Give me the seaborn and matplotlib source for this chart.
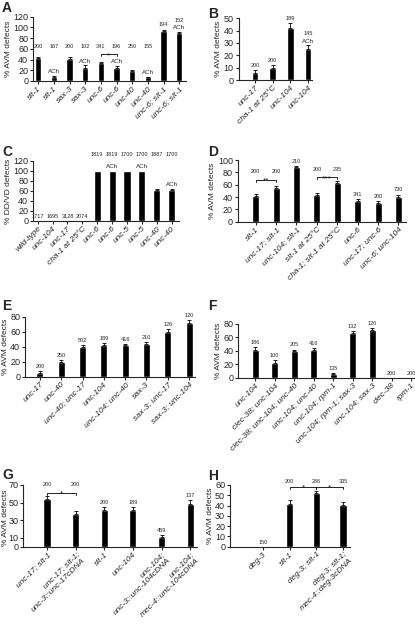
import numpy as np
import pandas as pd
import seaborn as sns
import matplotlib
matplotlib.use("Agg")
import matplotlib.pyplot as plt

# ---- data ----
a_labels = ["slt-1", "slt-1", "sax-3", "sax-3", "unc-6", "unc-6", "unc-40", "unc-40",
            "unc-6; slt-1", "unc-6; slt-1"]
a_vals = [42, 8, 41, 25, 34, 25, 19, 7, 94, 90]
a_errs = [3, 2, 3, 4, 2, 3, 1, 1, 2, 2]
a_counts = [200, 167, 200, 102, 341, 196, 250, 155, 194, 152]
a_ach = [0, 1, 0, 1, 0, 1, 0, 1, 0, 1]

b_labels = ["unc-17", "cha-1 at 25°C", "unc-104", "unc-104"]
b_vals = [6, 10, 42, 25]
b_errs = [2, 2, 4, 3]
b_counts = [200, 200, 189, 145]
b_ach = [0, 0, 0, 1]

c_labels = ["wild-type", "unc-104", "unc-17", "cha-1 at 25°C", "unc-6", "unc-6",
            "unc-5", "unc-5", "unc-40", "unc-40"]
c_vals = [0, 0, 0, 0, 100, 100, 100, 100, 62, 62]
c_errs = [0, 0, 0, 0, 0, 0, 0, 0, 2, 2]
c_counts = [1717, 1695, 3128, 2074, 1819, 1819, 1700, 1700, 1887, 1700]
c_ach = [0, 0, 0, 0, 0, 1, 0, 1, 0, 1]

d_labels = ["slt-1", "unc-17; slt-1", "unc-104; slt-1", "slt-1 at 25°C",
            "cha-1; slt-1 at 25°C", "unc-6", "unc-17; unc-6", "unc-6; unc-104"]
d_vals = [42, 55, 88, 43, 63, 34, 31, 40]
d_errs = [3, 3, 2, 3, 3, 3, 3, 4]
d_counts = [200, 200, 210, 200, 235, 341, 200, 730]

e_labels = ["unc-17", "unc-40", "unc-40; unc-17", "unc-104", "unc-104; unc-40",
            "sax-3", "sax-3; unc-17", "sax-3; unc-104"]
e_vals = [5, 19, 40, 42, 42, 43, 60, 71]
e_errs = [2, 3, 2, 3, 2, 3, 4, 4]
e_counts = [200, 250, 502, 189, 416, 210, 126, 120]

f_labels = ["unc-104", "clec-38; unc-104", "clec-38; unc-104; unc-40", "unc-104; unc-40",
            "unc-104; rpm-1", "unc-104; rpm-1; sax-3", "unc-104; sax-3", "clec-38", "rpm-1"]
f_vals = [42, 22, 40, 42, 6, 67, 71, 0, 0]
f_errs = [3, 4, 2, 2, 1, 3, 3, 0, 0]
f_counts = [186, 100, 205, 416, 135, 132, 120, 200, 200]

g_labels = ["unc-17; slt-1", "unc-17; slt-1;\nunc-3::unc-17cDNA", "slt-1", "unc-104",
            "unc-104;\nunc-3::unc-104cDNA", "unc-104;\nmec-4::unc-104cDNA"]
g_vals = [54, 37, 42, 42, 11, 49]
g_errs = [3, 3, 3, 3, 2, 4]
g_counts = [200, 200, 200, 189, 459, 137]

h_labels = ["deg-3", "slt-1", "deg-3; slt-1", "deg-3; slt-1;\nmec-4::deg-3cDNA"]
h_vals = [0, 42, 52, 41]
h_errs = [0, 3, 2, 2]
h_counts = [150, 200, 286, 335]

sns.set_style("ticks")
plt.rcParams["font.family"] = ["Liberation Sans", "DejaVu Sans"]

W, H = 415, 626
fig = plt.figure(figsize=(W / 100, H / 100), dpi=100)


def make_axes(left, right, top, bottom):
    return fig.add_axes([left / W, 1 - bottom / H, (right - left) / W, (bottom - top) / H])


def draw_panel(ax, labels, vals, errs, width, xlim, ylim, yticks, ylabel="% AVM defects"):
    n = len(vals)
    df = pd.DataFrame({"pos": np.arange(n), "val": vals})
    sns.barplot(data=df, x="pos", y="val", color="black", width=width, saturation=1,
                errorbar=None, native_scale=True, ax=ax)
    errs = np.array(errs)
    m = errs > 0
    ax.errorbar(df["pos"][m], df["val"][m], yerr=[np.zeros(m.sum()), errs[m]], fmt="none",
                ecolor="black", elinewidth=0.6, capsize=1.5, capthick=0.6)
    ax.set_xlim(xlim)
    ax.set_ylim(ylim)
    ax.set_yticks(yticks)
    ax.set_yticklabels([str(t) for t in yticks], fontsize=6.5)
    ax.set_xticks(np.arange(n))
    ax.set_xticklabels(labels, rotation=45, ha="right", va="top", rotation_mode="anchor",
                       fontstyle="italic", fontsize=6, multialignment="right")
    ax.set_xlabel("")
    ax.set_ylabel(ylabel, fontsize=6, labelpad=1)
    ax.tick_params(axis="y", length=2.5, width=0.8, pad=1)
    ax.tick_params(axis="x", length=2, width=0.8, pad=1)
    sns.despine(ax=ax)
    for s in ("left", "bottom"):
        ax.spines[s].set_linewidth(0.8)


def label_bars(ax, vals, errs, counts, ach=None, rows=None):
    rows = rows or {}
    ach = ach or [0] * len(vals)
    for i, (v, e, c, a) in enumerate(zip(vals, errs, counts, ach)):
        top = v + e
        if a:
            ax.annotate("ACh", (i, top), xytext=(0, 1.2), textcoords="offset points",
                        ha="center", va="bottom", fontsize=4.5, annotation_clip=False)
        if i in rows:
            ax.text(i, rows[i], str(c), ha="center", va="center", fontsize=4, clip_on=False)
        else:
            off = 6.5 if a else 1.5
            ax.annotate(str(c), (i, top), xytext=(0, off), textcoords="offset points",
                        ha="center", va="bottom", fontsize=4, annotation_clip=False)


def bracket(ax, i, j, y, stars, drop):
    ax.plot([i, i, j, j], [y - drop, y, y, y - drop], color="black", lw=0.6, clip_on=False)
    ax.annotate(stars, ((i + j) / 2, y), xytext=(0, -2), textcoords="offset points",
                ha="center", va="baseline", fontsize=6, annotation_clip=False)


# A
ax = make_axes(33, 186, 16.7, 81)
draw_panel(ax, a_labels, a_vals, a_errs, 0.4, (-0.33, 9.43), (0, 120), range(0, 121, 20))
label_bars(ax, a_vals, a_errs, a_counts, a_ach, rows={i: 64 for i in range(8)})
bracket(ax, 4, 5, 50, "*", 3)

# B
ax = make_axes(238.5, 312, 18.3, 80)
draw_panel(ax, b_labels, b_vals, b_errs, 0.38, (-0.93, 3.22), (0, 50), range(0, 51, 10))
label_bars(ax, b_vals, b_errs, b_counts, b_ach)

# C
ax = make_axes(33, 179, 161, 221)
draw_panel(ax, c_labels, c_vals, c_errs, 0.48, (-0.32, 9.5), (0, 120), range(0, 121, 20),
           ylabel="% DD/VD defects")
label_bars(ax, c_vals, c_errs, c_counts, c_ach, rows={i: 132 for i in range(4, 10)})

# D
ax = make_axes(237.7, 406, 160, 221.7)
draw_panel(ax, d_labels, d_vals, d_errs, 0.34, (-0.88, 7.37), (0, 100), range(0, 101, 20))
label_bars(ax, d_vals, d_errs, d_counts, rows={0: 81, 1: 81, 3: 84, 4: 84})
bracket(ax, 0, 1, 68, "**", 3.5)
bracket(ax, 3, 4, 72, "***", 3.5)

# E
ax = make_axes(25, 195, 316.7, 376.7)
draw_panel(ax, e_labels, e_vals, e_errs, 0.33, (-0.7, 7.28), (0, 80), range(0, 81, 20))
label_bars(ax, e_vals, e_errs, e_counts)

# F
ax = make_axes(238.3, 414, 324, 377.7)
draw_panel(ax, f_labels, f_vals, f_errs, 0.36, (-0.86, 8.15), (0, 80), range(0, 81, 20))
label_bars(ax, f_vals, f_errs, f_counts)

# G
ax = make_axes(23.3, 197, 485, 546.7)
draw_panel(ax, g_labels, g_vals, g_errs, 0.25, (-0.83, 5.24), (0, 70), [0, 10, 30, 50, 70])
ax.yaxis.set_label_coords(-0.085, 0.47)
label_bars(ax, g_vals, g_errs, g_counts, rows={0: 70, 1: 70})
bracket(ax, 0, 1, 61, "*", 2.5)

# H
ax = make_axes(230, 350, 485, 546.7)
draw_panel(ax, h_labels, h_vals, h_errs, 0.27, (-1.24, 3.26), (0, 60), range(0, 61, 10))
label_bars(ax, h_vals, h_errs, h_counts, rows={1: 63, 2: 63, 3: 63})
bracket(ax, 1, 2, 58, "*", 2)
bracket(ax, 2, 3, 58, "*", 2)

for letter, x, y in [("A", 2, 1), ("B", 208, 7), ("C", 2, 145), ("D", 208, 145),
                     ("E", 2, 299), ("F", 208, 299), ("G", 2, 468), ("H", 208, 469)]:
    fig.text(x / W, 1 - y / H, letter, fontsize=10, fontweight="bold", ha="left", va="top")

fig.savefig("out.png", dpi=100)
